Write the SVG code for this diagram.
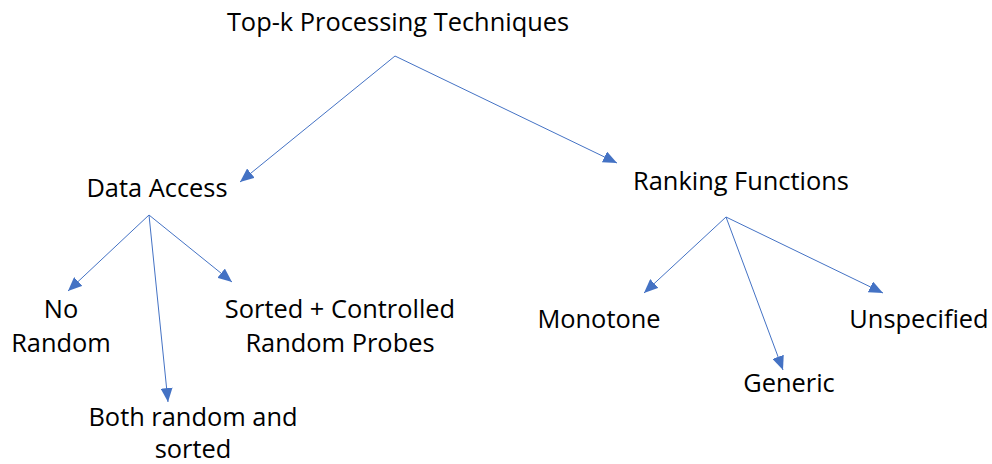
<svg xmlns="http://www.w3.org/2000/svg" width="992" height="464" viewBox="0 0 992 464">
  <style>
    .lbl { font-family: "Open Sans", "Liberation Sans", sans-serif; font-size: 25.4px; fill: #000; text-anchor: middle; }
    .edge { stroke: #4472C4; stroke-width: 1; fill: none; marker-end: url(#tri); }
  </style>
  <defs>
    <marker id="tri" markerUnits="userSpaceOnUse" markerWidth="14" markerHeight="12" viewBox="0 0 14 12" refX="14" refY="6" orient="auto">
      <path d="M0,0 L14,6 L0,12 Z" fill="#4472C4"/>
    </marker>
  </defs>
  <rect width="992" height="464" fill="#fff"/>

  <g id="connectors">
    <path class="edge" d="M395,56 L240,182"/>
    <path class="edge" d="M395,56 L617,163"/>
    <path class="edge" d="M149,215 L68,291"/>
    <path class="edge" d="M149,215 L168,402"/>
    <path class="edge" d="M149,215 L232,282"/>
    <path class="edge" d="M726,217 L644,293"/>
    <path class="edge" d="M726,217 L783,370"/>
    <path class="edge" d="M726,217 L883,293"/>
  </g>

  <g id="node-root"><text class="lbl" x="398" y="31">Top-k Processing Techniques</text></g>
  <g id="node-data-access"><text class="lbl" x="157" y="197">Data Access</text></g>
  <g id="node-ranking"><text class="lbl" x="741" y="190">Ranking Functions</text></g>
  <g id="node-no-random">
    <text class="lbl" x="61" y="318">No</text>
    <text class="lbl" x="61" y="352">Random</text>
  </g>
  <g id="node-both">
    <text class="lbl" x="193" y="426">Both random and</text>
    <text class="lbl" x="193" y="458">sorted</text>
  </g>
  <g id="node-sorted-controlled">
    <text class="lbl" x="340" y="318">Sorted + Controlled</text>
    <text class="lbl" x="340" y="352">Random Probes</text>
  </g>
  <g id="node-monotone"><text class="lbl" x="599" y="328">Monotone</text></g>
  <g id="node-generic"><text class="lbl" x="789" y="392">Generic</text></g>
  <g id="node-unspecified"><text class="lbl" x="919" y="328">Unspecified</text></g>
</svg>
